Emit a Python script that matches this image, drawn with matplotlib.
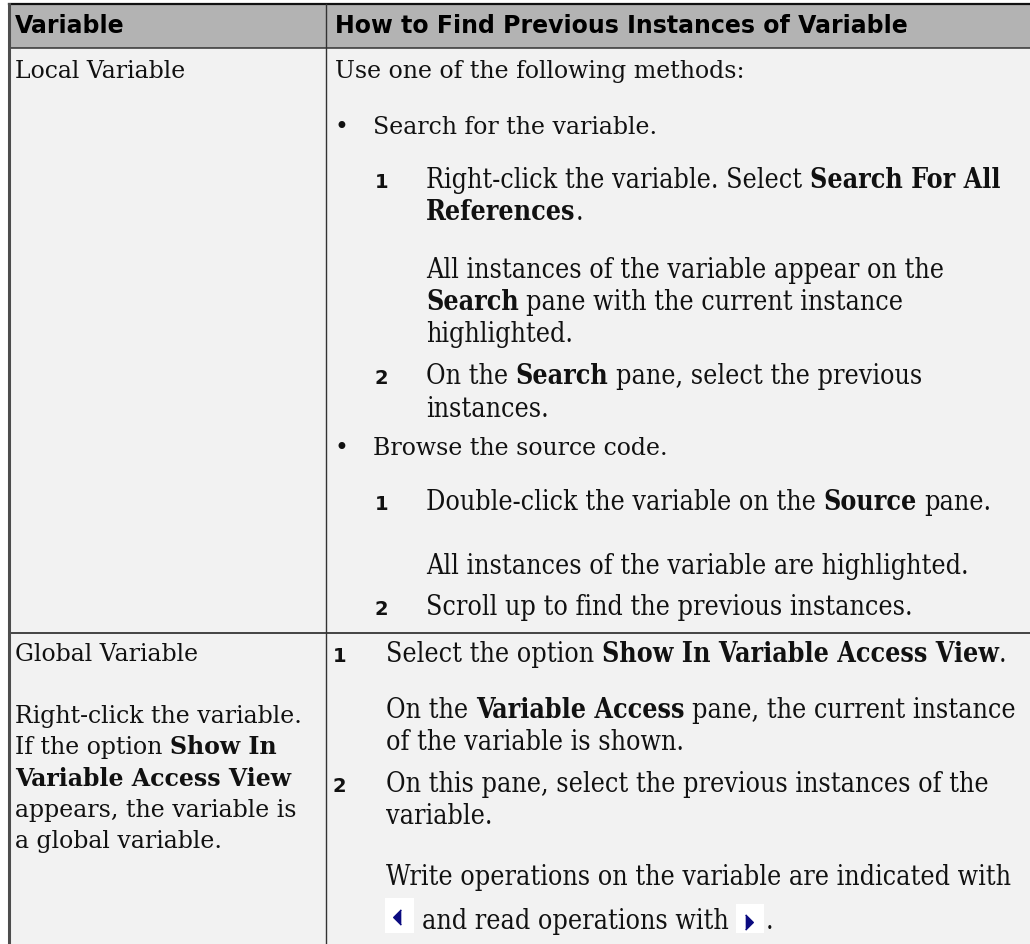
import matplotlib
matplotlib.use("Agg")
import matplotlib.pyplot as plt
from matplotlib import font_manager as fm
from matplotlib.font_manager import FontProperties
from matplotlib.patches import Rectangle

# ---------------- content ----------------
header = ["Variable", "How to Find Previous Instances of Variable"]
row_labels = ["Local Variable", "Global Variable"]

intro_local = [("Use one of the following methods:", False)]
bullets_local = ["Search for the variable.", "Browse the source code."]

local_search_steps = [
    ("1", [[("Right-click the variable. Select ", False), ("Search For All", True)],
           [("References", True), (".", False)]]),
    (None, [[("All instances of the variable appear on the", False)],
            [("Search", True), (" pane with the current instance", False)],
            [("highlighted.", False)]]),
    ("2", [[("On the ", False), ("Search", True), (" pane, select the previous", False)],
           [("instances.", False)]]),
]
local_browse_steps = [
    ("1", [[("Double-click the variable on the ", False), ("Source", True), (" pane.", False)]]),
    (None, [[("All instances of the variable are highlighted.", False)]]),
    ("2", [[("Scroll up to find the previous instances.", False)]]),
]
global_left = [
    [("Right-click the variable.", False)],
    [("If the option ", False), ("Show In", True)],
    [("Variable Access View", True)],
    [("appears, the variable is", False)],
    [("a global variable.", False)],
]
global_steps = [
    ("1", [[("Select the option ", False), ("Show In Variable Access View", True), (".", False)]]),
    (None, [[("On the ", False), ("Variable Access", True), (" pane, the current instance", False)],
            [("of the variable is shown.", False)]]),
    ("2", [[("On this pane, select the previous instances of the", False)],
           [("variable.", False)]]),
    (None, [[("Write operations on the variable are indicated with", False)]]),
]
icon_line = ["and read operations with", "."]

# ---------------- figure ----------------
W, H = 1030, 944
fig = plt.figure(figsize=(W / 100, H / 100), dpi=100)
ax = fig.add_axes([0, 0, 1, 1])
ax.set_xlim(0, W)
ax.set_ylim(H, 0)
ax.axis("off")
fig.patch.set_facecolor("white")
renderer = fig.canvas.get_renderer()

FS = 17.0
FSC = 19.2
TXT = "#111111"
serif = FontProperties(family="DejaVu Serif", size=FS)
serif_b = FontProperties(family="DejaVu Serif", weight="bold", size=FS)
cond = FontProperties(family="DejaVu Serif", stretch="condensed", size=FSC)
cond_b = FontProperties(family="DejaVu Serif", stretch="condensed", weight="bold", size=FSC)
sans_b = FontProperties(family="DejaVu Sans", weight="bold", size=FS)
num_b = FontProperties(family="DejaVu Sans", weight="bold", size=14.0)

if "ondensed" not in fm.findfont(cond):
    cond = FontProperties(family="DejaVu Serif", size=FSC * 0.88)
    cond_b = FontProperties(family="DejaVu Serif", weight="bold", size=FSC * 0.88)


def width(s, fp):
    t = ax.text(0, 0, s, fontproperties=fp)
    w = t.get_window_extent(renderer=renderer).width
    t.remove()
    return w


def space_w(fp):
    return width("x x", fp) - width("xx", fp)


def draw_runs(x, y, runs, fr, fb):
    for text, bold in runs:
        fp = fb if bold else fr
        lead = len(text) - len(text.lstrip(" "))
        trail = len(text) - len(text.rstrip(" "))
        x += lead * space_w(fp)
        core = text.strip(" ")
        if core:
            t = ax.text(x, y, core, fontproperties=fp, va="baseline", ha="left", color=TXT)
            x += t.get_window_extent(renderer=renderer).width
        x += trail * space_w(fp)
    return x


# ---------------- table geometry ----------------
XL, XC, XR = 9, 326, W
YT, YH, YROW, YB = 4, 48, 633, H

ax.add_patch(Rectangle((XL, YT), XR - XL, YH - YT, facecolor="#b3b3b3", edgecolor="none"))
ax.add_patch(Rectangle((XL, YH), XR - XL, YB - YH, facecolor="#f2f2f2", edgecolor="none"))
ax.plot([XL, XR], [YT, YT], color="#111111", lw=1.6)
ax.plot([XL, XR], [YH, YH], color="#333333", lw=1.1)
ax.plot([XL, XR], [YROW, YROW], color="#444444", lw=1.4)
ax.plot([XL, XL], [YT, YB], color="#4d4d4d", lw=2.2)
ax.plot([XC, XC], [YT, YB], color="#333333", lw=1.0)

# header
ax.text(15, 33, header[0], fontproperties=sans_b, va="baseline", color="black")
ax.text(335, 33, header[1], fontproperties=sans_b, va="baseline", color="black")

# ---------------- local variable row ----------------
ax.text(15, 78, row_labels[0], fontproperties=serif, va="baseline", color=TXT)
draw_runs(335, 78, intro_local, serif, serif_b)

LH = 32.5


def draw_steps(steps, y, num_x, txt_x, gaps):
    for k, (num, lines) in enumerate(steps):
        if k:
            y += gaps[k - 1]
        if num:
            ax.text(num_x, y, num, fontproperties=num_b, va="baseline", color=TXT)
        for i, runs in enumerate(lines):
            if i:
                y += LH
            draw_runs(txt_x, y, runs, cond, cond_b)
    return y


ax.text(335, 134, "•", fontproperties=serif, va="baseline", color=TXT)
ax.text(373, 134, bullets_local[0], fontproperties=serif, va="baseline", color=TXT)
draw_steps(local_search_steps, 188, 375, 426, [57, 42])

ax.text(335, 455, "•", fontproperties=serif, va="baseline", color=TXT)
ax.text(373, 455, bullets_local[1], fontproperties=serif, va="baseline", color=TXT)
draw_steps(local_browse_steps, 510, 375, 426, [64, 41])

# ---------------- global variable row ----------------
ax.text(15, 661, row_labels[1], fontproperties=serif, va="baseline", color=TXT)
yl = 723
for runs in global_left:
    draw_runs(15, yl, runs, serif, serif_b)
    yl += 31.3

y_last = draw_steps(global_steps, 662, 333, 386, [56, 41, 61])

# icon line
yi = y_last + 44
tri_l = [(0.5, 1), (-0.5, 0), (0.5, -1)]
tri_r = [(-0.5, 1), (0.5, 0), (-0.5, -1)]
x = 385
ax.add_patch(Rectangle((x, yi - 31), 29, 35, facecolor="white", edgecolor="none"))
ax.plot([x + 12], [yi - 12], marker=tri_l, markersize=11, color="#0a0a80", linestyle="none")
x += 37
x = draw_runs(x, yi, [(icon_line[0], False)], cond, cond_b)
x += 7
ax.add_patch(Rectangle((x, yi - 25), 28, 29, facecolor="white", edgecolor="none"))
ax.plot([x + 13], [yi - 7], marker=tri_r, markersize=11, color="#0a0a80", linestyle="none")
x += 30
draw_runs(x, yi, [(icon_line[1], False)], cond, cond_b)

fig.savefig("out.png", dpi=100, facecolor="white")
